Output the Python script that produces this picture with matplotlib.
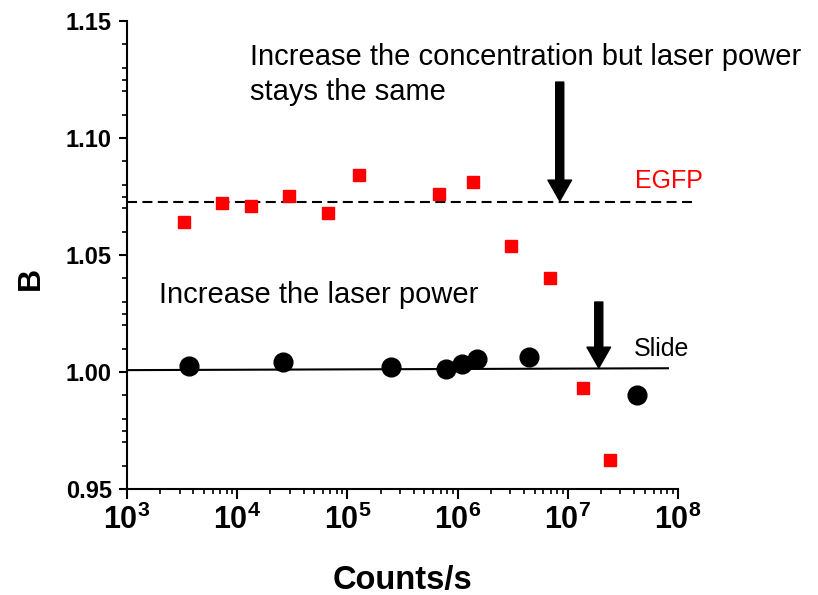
import matplotlib
matplotlib.use("Agg")
import matplotlib.pyplot as plt
import numpy as np
from matplotlib.ticker import FixedLocator, LogLocator, NullFormatter

plt.rcParams['font.family'] = ['Liberation Sans', 'DejaVu Sans']
plt.rcParams['mathtext.fontset'] = 'custom'
plt.rcParams['mathtext.rm'] = 'Liberation Sans:bold'
plt.rcParams['mathtext.bf'] = 'Liberation Sans:bold'
plt.rcParams['mathtext.it'] = 'Liberation Sans:bold'

# EGFP (red squares)
egfp_x = [3300, 7300, 13400, 29700, 67100, 128500, 671000, 1.37e6, 3.03e6, 6.86e6, 1.37e7, 2.41e7]
egfp_y = [1.0641, 1.0722, 1.0709, 1.0752, 1.0679, 1.0842, 1.0761, 1.0812, 1.0538, 1.0402, 0.9932, 0.9624]

# Slide (black circles)
slide_x = [3660, 26200, 251000, 778000, 1.09e6, 1.49e6, 4.42e6, 4.24e7]
slide_y = [1.0026, 1.0043, 1.0021, 1.0013, 1.0034, 1.0056, 1.0064, 0.9902]

# reference lines
egfp_level_x = [1e3, 1.45e8]
egfp_level_y = [1.0726, 1.0726]
slide_fit_x = [1e3, 8.1e7]
slide_fit_y = [1.0008, 1.0016]

x_ticks = [1e3, 1e4, 1e5, 1e6, 1e7, 1e8]
x_ticklabels = [r'$10^{3}$', r'$10^{4}$', r'$10^{5}$', r'$10^{6}$', r'$10^{7}$', r'$10^{8}$']
y_ticks = [0.95, 1.00, 1.05, 1.10, 1.15]
y_ticklabels = ['0.95', '1.00', '1.05', '1.10', '1.15']

fig = plt.figure(figsize=(8.18, 5.95), dpi=100)
ax = fig.add_axes([127/818, 1-489/595, (678-127)/818, (489-21)/595])

ax.set_xscale('log')
ax.set_xlim(1e3, 1e8)
ax.set_ylim(0.95, 1.15)

ax.plot(egfp_level_x, egfp_level_y, color='black', lw=1.5, ls=(0, (4.8, 2.6)), clip_on=False, zorder=2)
ax.plot(slide_fit_x, slide_fit_y, color='black', lw=1.5, zorder=2)

ax.plot(egfp_x, egfp_y, ls='none', marker='s', ms=9.3, color='#ff0000', mec='#ff0000', zorder=3)
ax.plot(slide_x, slide_y, ls='none', marker='o', ms=13.5, color='black', zorder=3)

arrow_style = 'simple,head_length=0.75,head_width=0.85,tail_width=0.29'
ax.annotate('', xy=(8.45e6, 1.0731), xytext=(8.45e6, 1.1239),
            arrowprops=dict(arrowstyle=arrow_style, color='black', mutation_scale=20,
                            shrinkA=0, shrinkB=0))
ax.annotate('', xy=(1.91e7, 1.0017), xytext=(1.91e7, 1.0299),
            arrowprops=dict(arrowstyle=arrow_style, color='black', mutation_scale=20,
                            shrinkA=0, shrinkB=0))

ax.text(1.31e4, 1.1312, 'Increase the concentration but laser power', fontsize=21, va='baseline', ha='left')
ax.text(1.31e4, 1.1162, 'stays the same', fontsize=21, va='baseline', ha='left')
ax.text(1950, 1.0295, 'Increase the laser power', fontsize=21, va='baseline', ha='left')
ax.text(4.07e7, 1.0786, 'EGFP', fontsize=18, va='baseline', ha='left', color='#ff0000')
ax.text(3.99e7, 1.0068, 'Slide', fontsize=18, va='baseline', ha='left')

for s in ['top', 'right']:
    ax.spines[s].set_visible(False)
for s in ['left', 'bottom']:
    ax.spines[s].set_linewidth(1.5)

ax.set_xticks(x_ticks)
ax.set_xticklabels(x_ticklabels, fontsize=22)
ax.xaxis.set_minor_locator(LogLocator(base=10, subs=np.arange(2, 10)))
ax.xaxis.set_minor_formatter(NullFormatter())

ax.set_yticks(y_ticks)
ax.set_yticklabels(y_ticklabels, fontsize=17, fontweight='bold')
minor_y = [v for v in np.round(np.arange(0.95, 1.1501, 0.01), 3) if round(v * 100) % 5 != 0]
minor_y += [0.975, 1.025, 1.075, 1.125]
ax.yaxis.set_minor_locator(FixedLocator(minor_y))

ax.tick_params(axis='x', which='major', length=7, width=1.5, pad=4, direction='out')
ax.tick_params(axis='x', which='minor', length=3.5, width=1.2, direction='out')
ax.tick_params(axis='y', which='major', length=6, width=1.5, pad=5, direction='out')
ax.tick_params(axis='y', which='minor', length=3.5, width=1.2, direction='out')

ax.set_xlabel('Counts/s', fontsize=23.5, fontweight='bold')
ax.xaxis.set_label_coords(0.5, -0.163)
ax.set_ylabel('B', fontsize=23, fontweight='bold')
ax.yaxis.set_label_coords(-0.147, 0.449)

fig.savefig('out.png', dpi=100)
